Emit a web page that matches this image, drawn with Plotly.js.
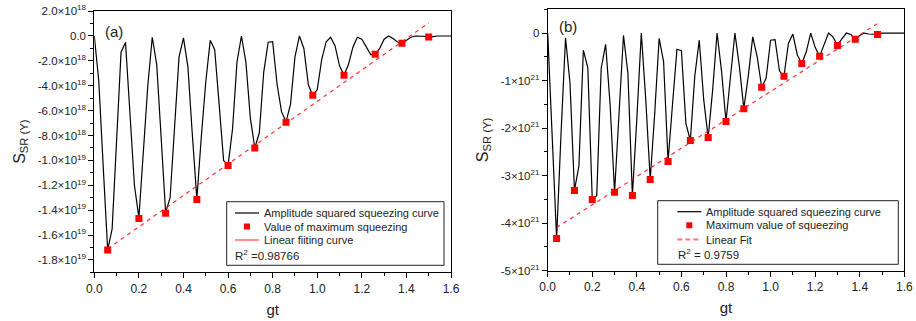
<!DOCTYPE html>
<html>
<head>
<meta charset="utf-8">
<script src="https://cdn.plot.ly/plotly-3.0.1.min.js"></script>
<style>html,body{margin:0;padding:0;background:#fff;}#chart{width:916px;height:321px;}</style>
</head>
<body>
<div id="chart"></div>
<script>
// ---------------- DATA ----------------
const gtGrid = [
  0.00,0.02,0.04,0.06,0.08,0.10,0.12,0.14,0.16,0.18,
  0.20,0.22,0.24,0.26,0.28,0.30,0.32,0.34,0.36,0.38,
  0.40,0.42,0.44,0.46,0.48,0.50,0.52,0.54,0.56,0.58,
  0.60,0.62,0.64,0.66,0.68,0.70,0.72,0.74,0.76,0.78,
  0.80,0.82,0.84,0.86,0.88,0.90,0.92,0.94,0.96,0.98,
  1.00,1.02,1.04,1.06,1.08,1.10,1.12,1.14,1.16,1.18,
  1.20,1.22,1.24,1.26,1.28,1.30,1.32,1.34,1.36,1.38,
  1.40,1.42,1.44,1.46,1.48,1.50,1.52,1.54,1.56,1.58,
  1.60
];

// Panel (a): values in units of 1e18
const unitA = 1e18;
const curveA = [
  0,-3.6,-10.5,-17.2,-15.5,-8.4,-1.3,-0.5,-6.5,-12.0,
  -14.6,-9.5,-4.0,-0.1,-2.3,-8.2,-14.2,-13.0,-7.2,-1.7,
  -0.15,-2.5,-8.0,-13.1,-8.1,-3.7,-0.35,-1.1,-5.5,-10.0,
  -10.4,-7.5,-2.1,0,-2.1,-6.6,-9.0,-7.8,-2.9,-0.5,
  -0.45,-3.9,-6.1,-6.9,-5.5,-1.7,0,-1.0,-3.9,-4.8,
  -4.3,-1.9,-0.46,-0.1,-0.8,-2.4,-3.15,-2.3,-0.9,-0.1,
  -0.25,-0.85,-1.5,-1.5,-1.0,-0.26,0,-0.2,-0.48,-0.6,
  -0.32,-0.1,0,-0.02,-0.05,-0.08,-0.05,0,0,0,
  0
];
const maxA_x = [0.06,0.20,0.32,0.46,0.60,0.72,0.86,0.98,1.12,1.26,1.38,1.50];
const maxA_y = [-17.2,-14.67,-14.24,-13.14,-10.4,-9.0,-6.94,-4.77,-3.16,-1.47,-0.59,-0.08];
const fitA_x = [0.06,1.50];
const fitA_y = [-17.1,1.05];
const yTicksA = [2,0,-2,-4,-6,-8,-10,-12,-14,-16,-18];
const yTickTextA = ['2.0×10<sup>18</sup>','0.0','-2.0×10<sup>18</sup>','-4.0×10<sup>18</sup>','-6.0×10<sup>18</sup>','-8.0×10<sup>18</sup>',
  '-1.0×10<sup>19</sup>','-1.2×10<sup>19</sup>','-1.4×10<sup>19</sup>','-1.6×10<sup>19</sup>','-1.8×10<sup>19</sup>'];

// Panel (b): values in units of 1e21
const unitB = 1e21;
const curveB = [
  0,-2.2,-4.32,-2.1,-0.1,-1.05,-3.31,-2.8,-0.36,-0.73,
  -3.5,-3.42,-0.74,-0.24,-1.5,-3.35,-1.6,-0.05,-0.85,-3.42,
  -1.8,0,-1.4,-3.08,-1.7,-0.11,-0.6,-2.70,-1.5,-0.34,
  -0.37,-1.9,-2.26,-0.9,-0.15,-1.4,-2.2,-1.2,0,-0.8,
  -1.86,-1.0,0,-0.7,-1.59,-0.9,-0.08,-0.5,-1.14,-0.95,
  -0.15,-0.14,-0.8,-0.91,-0.22,-0.02,-0.46,-0.64,-0.4,0,
  -0.3,-0.49,-0.25,0,-0.08,-0.26,-0.12,0,-0.03,-0.13,
  -0.05,0,-0.02,-0.02,-0.03,0,0,0,0,0,
  0
];
const maxB_x = [0.04,0.12,0.20,0.30,0.38,0.46,0.54,0.64,0.72,0.80,0.88,0.96,1.06,1.14,1.22,1.30,1.38,1.48];
const maxB_y = [-4.32,-3.31,-3.50,-3.35,-3.42,-3.08,-2.70,-2.26,-2.20,-1.86,-1.59,-1.14,-0.91,-0.64,-0.49,-0.26,-0.13,-0.03];
const fitB_x = [0.04,1.48];
const fitB_y = [-4.09,0.20];
const yTicksB = [0,-1,-2,-3,-4,-5];
const yTickTextB = ['0','-1×10<sup>21</sup>','-2×10<sup>21</sup>','-3×10<sup>21</sup>','-4×10<sup>21</sup>','-5×10<sup>21</sup>'];

const xTicks = [0,0.2,0.4,0.6,0.8,1.0,1.2,1.4,1.6];
const xTickText = ['0.0','0.2','0.4','0.6','0.8','1.0','1.2','1.4','1.6'];

const legendA = ['Amplitude squared squeezing curve','Value of maximum squeezing','Linear fiiting curve','R<sup>2</sup> =0.98766'];
const legendB = ['Amplitude squared squeezing curve','Maximum value of squeezing','Linear Fit','R<sup>2</sup> = 0.9759'];

// ---------------- CHART ----------------
const W = 916, H = 321;
const px = v => v / W;
const py = v => 1 - v / H;
const FONT = 'Liberation Sans, Arial, sans-serif';
const scale = (arr, u) => arr.map(v => v * u);

const traces = [
  {x: gtGrid, y: scale(curveA, unitA), type:'scatter', mode:'lines', line:{color:'#000', width:1.2}, xaxis:'x', yaxis:'y', showlegend:false},
  {x: fitA_x, y: scale(fitA_y, unitA), type:'scatter', mode:'lines', line:{color:'rgba(255,0,0,0.8)', width:1.2, dash:'4px,4px'}, xaxis:'x', yaxis:'y', showlegend:false},
  {x: maxA_x, y: scale(maxA_y, unitA), type:'scatter', mode:'markers', marker:{symbol:'square', color:'#ff0000', size:7}, xaxis:'x', yaxis:'y', showlegend:false},
  {x: gtGrid, y: scale(curveB, unitB), type:'scatter', mode:'lines', line:{color:'#000', width:1.2}, xaxis:'x2', yaxis:'y2', showlegend:false},
  {x: fitB_x, y: scale(fitB_y, unitB), type:'scatter', mode:'lines', line:{color:'rgba(255,0,0,0.8)', width:1.2, dash:'4px,4px'}, xaxis:'x2', yaxis:'y2', showlegend:false},
  {x: maxB_x, y: scale(maxB_y, unitB), type:'scatter', mode:'markers', marker:{symbol:'square', color:'#ff0000', size:7}, xaxis:'x2', yaxis:'y2', showlegend:false}
];

function xAxis(domain, anchor) {
  return {
    domain: domain, anchor: anchor, range:[0,1.6],
    tickmode:'array', tickvals: xTicks, ticktext: xTickText,
    ticks:'outside', ticklen:5, tickwidth:1, tickcolor:'#000',
    minor:{tickmode:'linear', tick0:0, dtick:0.1, ticks:'outside', ticklen:3, tickcolor:'#000'},
    showline:true, linecolor:'#000', linewidth:1, mirror:true,
    showgrid:false, zeroline:false,
    tickfont:{family:FONT, size:12, color:'#222'},
    title:{text:'gt', font:{family:FONT, size:15, color:'#222'}, standoff:9},
    automargin:false
  };
}
function yAxis(domain, anchor, range, vals, text, minorD, unit) {
  return {
    domain: domain, anchor: anchor, range: range,
    tickmode:'array', tickvals: scale(vals, unit), ticktext: text,
    ticks:'outside', ticklen:5, tickwidth:1, tickcolor:'#000',
    minor:{tickmode:'linear', tick0:0, dtick:minorD, ticks:'outside', ticklen:3, tickcolor:'#000'},
    showline:true, linecolor:'#000', linewidth:1, mirror:true,
    showgrid:false, zeroline:false,
    tickfont:{family:FONT, size:11.5, color:'#222'},
    title:{text:'S<sub>SR (Y)</sub>', font:{family:FONT, size:16, color:'#222'}, standoff:8},
    automargin:false
  };
}

const shapes = [];
const annotations = [];
function legendBox(box, sx0, sx1, rows, dashed) {
  shapes.push({type:'rect', xref:'paper', yref:'paper', x0:px(box[0]), x1:px(box[1]), y0:py(box[3]), y1:py(box[2]), line:{color:'#222', width:1}, fillcolor:'rgba(255,255,255,0)'});
  shapes.push({type:'line', xref:'paper', yref:'paper', x0:px(sx0), x1:px(sx1), y0:py(rows[0]), y1:py(rows[0]), line:{color:'#000', width:1.2}});
  const mx = (sx0 + sx1) / 2;
  shapes.push({type:'rect', xref:'paper', yref:'paper', x0:px(mx-3), x1:px(mx+3), y0:py(rows[1]+3), y1:py(rows[1]-3), line:{width:0}, fillcolor:'#ff0000'});
  shapes.push({type:'line', xref:'paper', yref:'paper', x0:px(sx0), x1:px(sx1), y0:py(rows[2]), y1:py(rows[2]),
    line: dashed ? {color:'rgba(255,60,60,0.7)', width:1.8, dash:'5px,3px'} : {color:'rgba(255,80,80,0.7)', width:1.8}});
}
function legendText(lines, textX, rows, r2x) {
  for (let i = 0; i < 3; i++) {
    annotations.push({xref:'paper', yref:'paper', x:px(textX), y:py(rows[i]), xanchor:'left', yanchor:'middle', text:lines[i], showarrow:false, font:{family:FONT, size:11, color:'#222'}});
  }
  annotations.push({xref:'paper', yref:'paper', x:px(r2x), y:py(rows[3]), xanchor:'left', yanchor:'middle', text:lines[3], showarrow:false, font:{family:FONT, size:11.5, color:'#222'}});
}
const rowsA = [213,226.5,240,255.3];
const rowsB = [211.7,225.3,239.5,254];
legendBox([226.7,444,201.7,265.3], 235, 259, rowsA, false);
legendBox([657.7,898.3,200.7,264.3], 677.3, 701.3, rowsB, true);
legendText(legendA, 262, rowsA, 233);
legendText(legendB, 704, rowsB, 675.5);

annotations.push({xref:'paper', yref:'paper', x:px(114), y:py(31), xanchor:'center', yanchor:'middle', text:'(a)', showarrow:false, font:{family:FONT, size:15, color:'#222'}});
annotations.push({xref:'paper', yref:'paper', x:px(568), y:py(26), xanchor:'center', yanchor:'middle', text:'(b)', showarrow:false, font:{family:FONT, size:15, color:'#222'}});

const layout = {
  width: W, height: H,
  margin:{l:0, r:0, t:0, b:0},
  paper_bgcolor:'#fff', plot_bgcolor:'#fff',
  font:{family:FONT, color:'#222'},
  showlegend:false,
  xaxis: xAxis([px(94.3), px(451)], 'y'),
  yaxis: yAxis([py(272.4), py(11.1)], 'x', [-19*unitA, 2*unitA], yTicksA, yTickTextA, 1*unitA, unitA),
  xaxis2: xAxis([px(547.7), px(904.3)], 'y2'),
  yaxis2: yAxis([py(270.7), py(9.3)], 'x2', [-5*unitB, 0.5*unitB], yTicksB, yTickTextB, 0.5*unitB, unitB),
  shapes: shapes,
  annotations: annotations
};

Plotly.newPlot('chart', traces, layout, {staticPlot:true, displayModeBar:false});
</script>
</body>
</html>
